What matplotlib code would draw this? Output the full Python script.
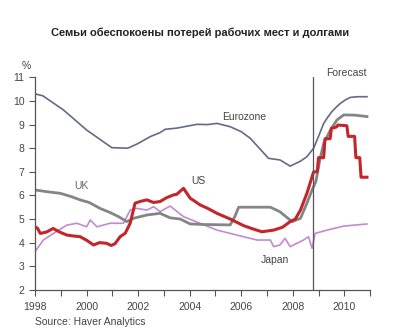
import matplotlib.pyplot as plt

# values (unemployment rate, %)
euro_x = [1998.0, 1998.3, 1999.1, 2000.0, 2000.98, 2001.6, 2002.0, 2002.47, 2002.85, 2003.05,
          2003.5, 2004.28, 2004.7, 2005.06, 2005.57, 2006.0, 2006.35, 2006.7, 2007.06, 2007.51,
          2007.9, 2008.3, 2008.55, 2008.81, 2009.0, 2009.2, 2009.35, 2009.52, 2009.7, 2009.85,
          2010.05, 2010.23, 2010.5, 2010.88]
euro_y = [10.30, 10.22, 9.62, 8.77, 8.02, 8.0, 8.2, 8.49, 8.66, 8.80,
          8.85, 9.01, 9.0, 9.05, 8.91, 8.7, 8.42, 8.0, 7.57, 7.50,
          7.24, 7.45, 7.64, 8.0, 8.5, 9.05, 9.3, 9.55, 9.75, 9.90,
          10.05, 10.15, 10.18, 10.18]

uk_x = [1998.0, 1998.5, 1998.97, 1999.4, 1999.75, 2000.1, 2000.52, 2000.9, 2001.24, 2001.56,
        2001.82, 2002.34, 2002.85, 2003.24, 2003.63, 2004.02, 2004.5, 2005.0, 2005.57, 2005.75,
        2005.9, 2006.5, 2007.13, 2007.5, 2007.97, 2008.3, 2008.55, 2008.75, 2008.9, 2009.05,
        2009.2, 2009.46, 2009.72, 2009.98, 2010.4, 2010.88]
uk_y = [6.23, 6.15, 6.09, 5.95, 5.81, 5.7, 5.45, 5.28, 5.10, 4.89,
        5.03, 5.17, 5.24, 5.05, 5.0, 4.79, 4.77, 4.76, 4.75, 5.1,
        5.50, 5.5, 5.50, 5.31, 4.89, 5.03, 5.67, 6.23, 6.6, 7.5,
        8.2, 8.77, 9.2, 9.41, 9.40, 9.34]

us_x = [1998.0, 1998.1, 1998.2, 1998.45, 1998.7, 1998.95, 1999.23, 1999.5, 1999.75, 2000.0,
        2000.27, 2000.5, 2000.78, 2000.95, 2001.1, 2001.3, 2001.5, 2001.69, 2001.88, 2002.1,
        2002.34, 2002.6, 2002.85, 2003.1, 2003.37, 2003.5, 2003.76, 2004.02, 2004.2, 2004.4,
        2004.7, 2005.06, 2005.57, 2006.09, 2006.4, 2006.8, 2007.26, 2007.6, 2007.9, 2008.1,
        2008.3, 2008.55, 2008.81, 2008.95, 2009.0, 2009.2, 2009.25, 2009.45, 2009.5, 2009.7,
        2009.75, 2010.1, 2010.15, 2010.4, 2010.45, 2010.6, 2010.65, 2010.88]
us_y = [4.67, 4.6, 4.39, 4.45, 4.6, 4.45, 4.32, 4.28, 4.25, 4.1,
        3.90, 4.0, 3.97, 3.88, 3.95, 4.25, 4.4, 4.82, 5.67, 5.75,
        5.81, 5.7, 5.74, 5.9, 6.02, 6.05, 6.30, 5.88, 5.75, 5.6,
        5.45, 5.24, 5.0, 4.72, 4.6, 4.46, 4.53, 4.65, 4.89, 5.0,
        5.38, 6.09, 7.0, 7.0, 7.6, 7.6, 8.4, 8.4, 8.84, 8.9,
        8.98, 8.95, 8.5, 8.5, 7.6, 7.6, 6.77, 6.77]

jp_x = [1998.0, 1998.32, 1998.71, 1999.23, 1999.62, 2000.0, 2000.14, 2000.4, 2000.91, 2001.43,
        2001.69, 2001.95, 2002.34, 2002.6, 2002.85, 2003.24, 2003.76, 2004.4, 2005.06, 2005.83,
        2006.61, 2007.13, 2007.26, 2007.5, 2007.7, 2007.9, 2008.42, 2008.61, 2008.75, 2008.87,
        2009.33, 2009.98, 2010.88]
jp_y = [3.62, 4.11, 4.39, 4.74, 4.82, 4.67, 4.96, 4.67, 4.82, 4.82,
        5.38, 5.45, 5.38, 5.52, 5.31, 5.55, 5.10, 4.82, 4.53, 4.32,
        4.11, 4.11, 3.83, 3.90, 4.18, 3.83, 4.11, 4.25, 3.76, 4.39,
        4.53, 4.70, 4.79]

forecast_start = 2008.78

fig = plt.figure(figsize=(4.08, 3.32), dpi=100)
plt.rcParams['font.family'] = ['Liberation Sans', 'DejaVu Sans']
ax = fig.add_axes([0.086, 0.127, 0.821, 0.64])

ax.plot(euro_x, euro_y, color='#646a86', lw=1.2)
ax.plot(jp_x, jp_y, color='#c38ad0', lw=1.2)
ax.plot(uk_x, uk_y, color='#858585', lw=2.0)
ax.plot(us_x, us_y, color='#c4252b', lw=2.2)
ax.axvline(forecast_start, color='#555555', lw=0.9)

ax.set_xlim(1998, 2011)
ax.set_ylim(2, 11)
ax.set_xticks(range(1998, 2012), minor=True)
ax.set_xticks(range(1998, 2011, 2))
ax.set_yticks(range(2, 12))
for s in ['top', 'right']:
    ax.spines[s].set_visible(False)
for s in ['left', 'bottom']:
    ax.spines[s].set_color('#555555')
    ax.spines[s].set_linewidth(0.9)
ax.tick_params(axis='both', which='both', direction='out', length=4, width=0.8,
               color='#555555', labelsize=7.5, labelcolor='#444444')
ax.tick_params(axis='x', pad=5)

ax.text(2006.1, 9.32, 'Eurozone', fontsize=7.5, color='#444444', ha='center', va='center')
ax.text(1999.8, 6.4, 'UK', fontsize=7.5, color='#666666', ha='center', va='center')
ax.text(2004.33, 6.61, 'US', fontsize=7.5, color='#444444', ha='center', va='center')
ax.text(2007.3, 3.26, 'Japan', fontsize=7.5, color='#444444', ha='center', va='center')
ax.text(2010.1, 11.19, 'Forecast', fontsize=7.5, color='#444444', ha='center', va='center')
ax.text(1997.65, 11.5, '%', fontsize=7.5, color='#444444', ha='center', va='center')

fig.text(0.49, 0.90, 'Семьи обеспокоены потерей рабочих мест и долгами',
         fontsize=8.0, fontweight='bold', color='#222222', ha='center', va='center')
fig.text(0.086, 0.03, 'Source: Haver Analytics', fontsize=7.5, color='#444444',
         ha='left', va='center')

fig.savefig('out.png', dpi=100)
